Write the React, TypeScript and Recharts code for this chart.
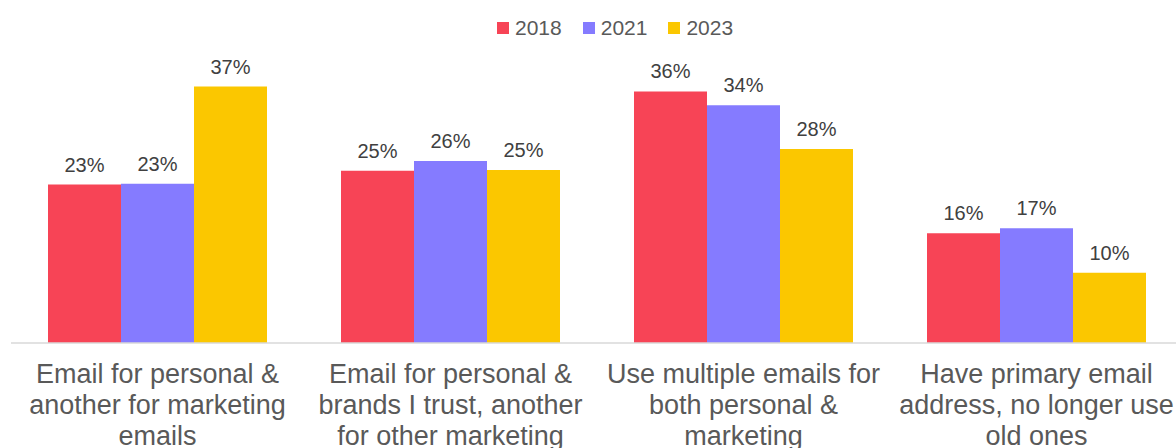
import React from 'react';
import { BarChart, Bar, XAxis, YAxis, Legend, LabelList } from 'recharts';

const categories: string[][] = [
  ['Email for personal &', 'another for marketing', 'emails'],
  ['Email for personal &', 'brands I trust, another', 'for other marketing'],
  ['Use multiple emails for', 'both personal &', 'marketing'],
  ['Have primary email', 'address, no longer use', 'old ones'],
];
const values2018 = [22.8, 24.8, 36.2, 15.8];
const values2021 = [22.9, 26.2, 34.2, 16.5];
const values2023 = [36.9, 24.9, 27.9, 10.1];
const seriesNames = ['2018', '2021', '2023'];
const colors = ['#F74456', '#857BFF', '#FBC700'];

const data = categories.map((c, i) => ({
  key: String(i),
  s2018: values2018[i],
  s2021: values2021[i],
  s2023: values2023[i],
}));

const FONT = '"Liberation Sans", Arial, sans-serif';

const Tick = (props: any) => {
  const { x, y, payload } = props;
  const lines = categories[Number(payload.value)] || [];
  return (
    <g>
      {lines.map((l, i) => (
        <text
          key={i}
          x={x}
          y={y + 40 + i * 31}
          textAnchor="middle"
          fill="#595959"
          fontSize={27}
          fontFamily={FONT}
        >
          {l}
        </text>
      ))}
    </g>
  );
};

const LegendContent = () => (
  <div style={{ display: 'flex', alignItems: 'center', fontFamily: FONT, fontSize: 21, color: '#595959' }}>
    {seriesNames.map((n, i) => (
      <div key={n} style={{ display: 'flex', alignItems: 'center', marginRight: 21 }}>
        <div style={{ width: 12, height: 12, background: colors[i], marginRight: 6 }} />
        <span style={{ lineHeight: '24px' }}>{n}</span>
      </div>
    ))}
  </div>
);

const fmt = (v: any) => `${Math.round(Number(v))}%`;

export default function App() {
  const keys = ['s2018', 's2021', 's2023'];
  return (
    <div style={{ position: 'absolute', left: 0, top: 0, width: 1176, height: 448, overflow: 'hidden', background: '#fff' }}>
      <BarChart
        width={1190}
        height={448}
        data={data}
        margin={{ top: 41, right: 7, left: 11, bottom: 0 }}
        barCategoryGap={37}
        barGap={0}
      >
        <XAxis
          dataKey="key"
          height={105}
          tick={<Tick />}
          tickLine={false}
          tickSize={0}
          tickMargin={0}
          axisLine={{ stroke: '#D9D9D9', strokeWidth: 1.5 }}
          interval={0}
        />
        <YAxis hide domain={[0, 40]} />
        <Legend
          content={<LegendContent />}
          verticalAlign="top"
          wrapperStyle={{ position: 'absolute', top: 16, left: 497, width: 'auto' }}
        />
        {keys.map((k, i) => (
          <Bar key={k} dataKey={k} name={seriesNames[i]} fill={colors[i]} isAnimationActive={false}>
            <LabelList
              dataKey={k}
              position="top"
              offset={13}
              formatter={fmt}
              fill="#404040"
              fontSize={20}
              fontFamily={FONT}
            />
          </Bar>
        ))}
      </BarChart>
    </div>
  );
}
